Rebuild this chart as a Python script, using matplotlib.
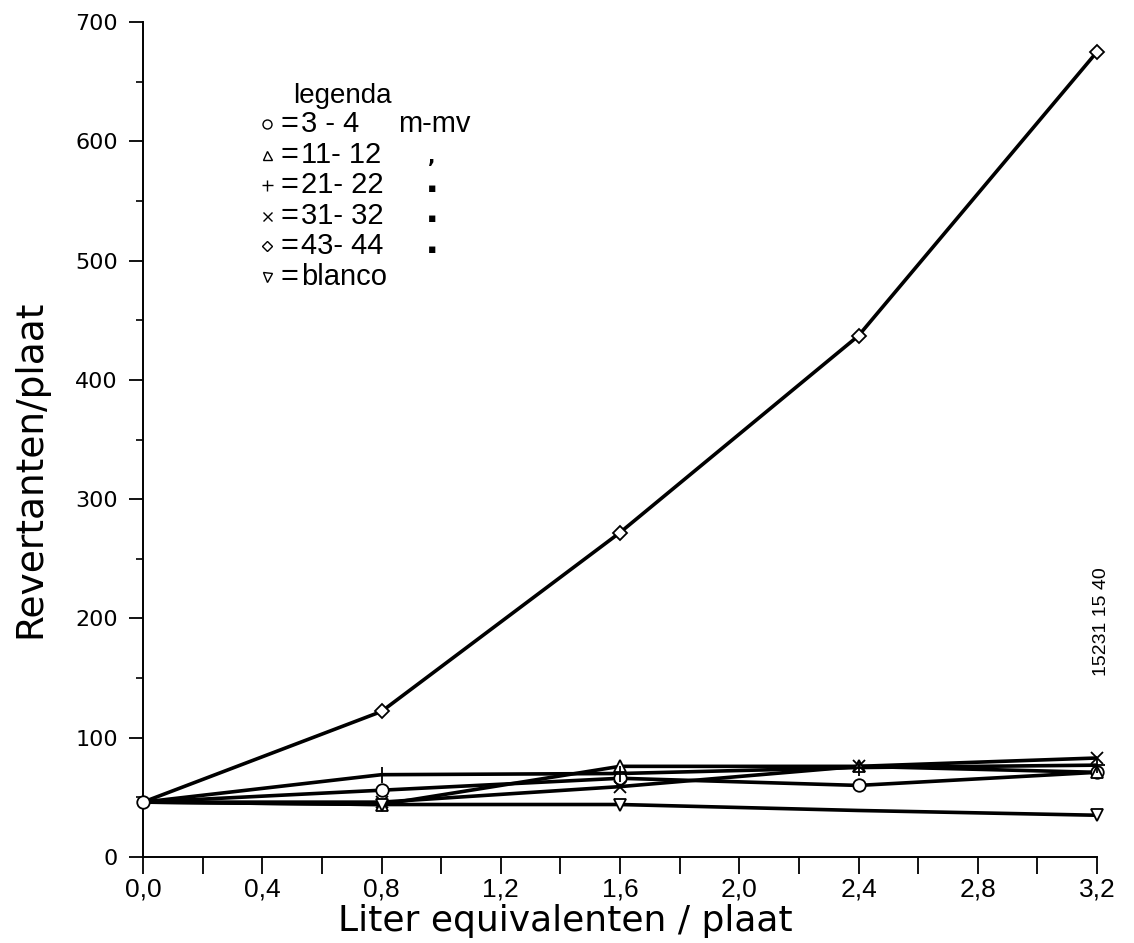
import matplotlib
matplotlib.use("Agg")
import matplotlib.pyplot as plt
from matplotlib.ticker import MultipleLocator, FuncFormatter

# Doses (liter equivalents per plate)
doses = [0.0, 0.8, 1.6, 2.4, 3.2]

# Revertants per plate for each sampling depth
rev_3_4 = [46, 56, 66, 60, 71]
rev_11_12 = [46, 44, 76, 76, 71]
rev_21_22 = [46, 69, 70, 75, 77]
rev_31_32 = [46, 46, 59, 76, 83]
rev_43_44 = [46, 122, 272, 437, 675]
rev_blank = [46, 44, 44, 39, 35]

series_labels = ["3 - 4", "11- 12", "21- 22", "31- 32", "43- 44", "blanco"]
series_markers = ["o", "^", "+", "x", "D", "v"]
series_values = [rev_3_4, rev_11_12, rev_21_22, rev_31_32, rev_43_44, rev_blank]
# points at which a symbol is printed (the shared start point only once)
series_marked = [[0, 1, 2, 3, 4], [1, 2, 3, 4], [1, 2, 3, 4],
                 [1, 2, 3, 4], [1, 2, 3, 4], [1, 2, 4]]
marker_sizes = {"o": 9, "^": 9, "+": 11, "x": 9, "D": 7, "v": 9}

W, H = 1134, 943
fig = plt.figure(figsize=(W / 100, H / 100), dpi=100)
fig.patch.set_facecolor("white")


def fx(px):
    return px / W


def fy(py):
    return 1 - py / H


ax = fig.add_axes([fx(143), fy(857), fx(1097) - fx(143), fy(22) - fy(857)])
ax.set_xlim(0, 3.2)
ax.set_ylim(0, 700)

for vals, mk, idx in zip(series_values, series_markers, series_marked):
    ax.plot(doses, vals, color="black", lw=2.6, solid_capstyle="butt",
            zorder=2, clip_on=False)
    ax.plot(doses, vals, linestyle="none", marker=mk, markevery=idx,
            markersize=marker_sizes[mk], markerfacecolor="white",
            markeredgecolor="black", markeredgewidth=1.3, zorder=3,
            clip_on=False)

for side in ("top", "right"):
    ax.spines[side].set_visible(False)
ax.spines["left"].set_linewidth(1.4)
ax.spines["bottom"].set_linewidth(1.4)

ax.xaxis.set_major_locator(MultipleLocator(0.4))
ax.xaxis.set_minor_locator(MultipleLocator(0.2))
ax.yaxis.set_major_locator(MultipleLocator(100))
ax.yaxis.set_minor_locator(MultipleLocator(50))
ax.xaxis.set_major_formatter(FuncFormatter(lambda v, p: f"{v:.1f}".replace(".", ",")))

ax.tick_params(axis="x", which="both", direction="out", length=12, width=1.3,
               pad=3, labelsize=19)
ax.tick_params(axis="y", which="major", direction="out", length=10, width=1.3,
               pad=8, labelsize=16)
ax.tick_params(axis="y", which="minor", direction="out", length=5, width=1.2)
for lbl in ax.get_xticklabels():
    lbl.set_fontfamily(["Liberation Sans", "DejaVu Sans"])
for lbl in ax.get_yticklabels():
    lbl.set_fontfamily(["DejaVu Sans"])

# Axis titles
fig.text(fx(565), fy(921), "Liter equivalenten / plaat", ha="center", va="center",
         fontsize=26, family=["DejaVu Sans"])
fig.text(fx(30), fy(469), "Revertanten/plaat", ha="center", va="center",
         rotation=90, fontsize=27, family=["DejaVu Sans"])

# Figure code on the right edge
fig.text(fx(1101), fy(622), "15231 15 40", ha="center", va="center",
         rotation=90, fontsize=14, family=["Liberation Sans", "DejaVu Sans"])

# Legend block
leg_font = ["Liberation Sans", "DejaVu Sans"]
fig.text(fx(293), fy(96), "legenda", ha="left", va="center", fontsize=20,
         family=leg_font)
row_y0, row_dy = 124, 30.6
ditto = [None, ",", "▪", "▪", "▪", None]
for i, (lab, mk) in enumerate(zip(series_labels, series_markers)):
    yy = row_y0 + i * row_dy
    ax.plot([fx(267)], [fy(yy)], transform=fig.transFigure, marker=mk,
            markersize=marker_sizes[mk] * 0.72, markerfacecolor="white",
            markeredgecolor="black", markeredgewidth=1.0, linestyle="none",
            clip_on=False)
    fig.text(fx(281), fy(yy), "=", ha="left", va="center", fontsize=22,
             family=leg_font)
    fig.text(fx(301), fy(yy), lab, ha="left", va="center", fontsize=21,
             family=leg_font)
    if i == 0:
        fig.text(fx(398), fy(yy), "m-mv", ha="left", va="center", fontsize=21,
                 family=leg_font)
    if ditto[i]:
        fig.text(fx(432), fy(yy + 3), ditto[i], ha="center", va="center",
                 fontsize=9 if ditto[i] == "▪" else 14, family=["DejaVu Sans"],
                 fontweight="bold")

fig.savefig("out.png", dpi=100, facecolor="white")
